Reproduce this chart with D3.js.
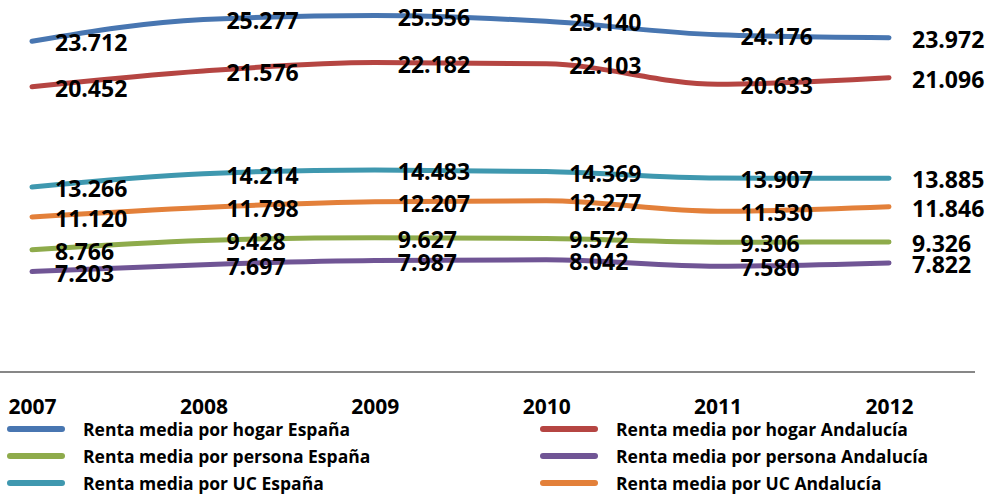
<!DOCTYPE html>
<html><head><meta charset="utf-8">
<script src="https://cdn.jsdelivr.net/npm/d3@7"></script>
<style>
html,body{margin:0;padding:0;background:#fff;}
svg{display:block;font-family:"Open Sans",sans-serif;font-weight:bold;}
</style></head>
<body>
<svg id="c" width="992" height="494"></svg>
<script>
const years = ["2007","2008","2009","2010","2011","2012"];
const hogarEspana = [23.712,25.277,25.556,25.140,24.176,23.972];
const hogarAndalucia = [20.452,21.576,22.182,22.103,20.633,21.096];
const ucEspana = [13.266,14.214,14.483,14.369,13.907,13.885];
const ucAndalucia = [11.120,11.798,12.207,12.277,11.530,11.846];
const personaEspana = [8.766,9.428,9.627,9.572,9.306,9.326];
const personaAndalucia = [7.203,7.697,7.987,8.042,7.580,7.822];
const seriesNames = ["Renta media por hogar España","Renta media por hogar Andalucía","Renta media por persona España","Renta media por persona Andalucía","Renta media por UC España","Renta media por UC Andalucía"];
const seriesValues = [hogarEspana,hogarAndalucia,personaEspana,personaAndalucia,ucEspana,ucAndalucia];
const colors = ["#4876B1","#B54542","#8EAB4B","#705595","#3F98AF","#E3803A"];

const svg = d3.select("#c");
const x = d3.scalePoint().domain(years).range([32,889]);
const y = d3.scaleLinear().domain([0,26.67]).range([372,0]);
const fmt = v => v.toFixed(3);

// axis baseline
svg.append("line").attr("x1",0).attr("x2",975).attr("y1",y(0)).attr("y2",y(0))
  .attr("stroke","#878787").attr("stroke-width",2);

// year labels
const xa = svg.append("g").attr("transform",`translate(0,${y(0)})`)
  .call(d3.axisBottom(x).tickSize(0).tickPadding(0));
xa.select(".domain").remove();
xa.selectAll("text").attr("dy",null).attr("y",34).attr("dominant-baseline","central")
  .attr("font-size",21).attr("font-family","Open Sans").attr("font-weight","bold").attr("fill","#000");

const line = d3.line().x((d,i)=>x(years[i])).y(d=>y(d)).curve(d3.curveMonotoneX);

seriesValues.forEach((vals,si)=>{
  svg.append("path").attr("d",line(vals)).attr("fill","none")
    .attr("stroke",colors[si]).attr("stroke-width",5)
    .attr("stroke-linecap","round").attr("stroke-linejoin","round");
});
seriesValues.forEach((vals,si)=>{
  svg.append("g").selectAll("text").data(vals).join("text")
    .attr("x",(d,i)=>x(years[i])+23).attr("y",d=>y(d)+1)
    .attr("dominant-baseline","central").attr("font-size",23).attr("fill","#000")
    .text(fmt);
});

// legend
const lg = svg.append("g");
seriesNames.forEach((name,i)=>{
  const col = i%2, row = Math.floor(i/2);
  const lx = col===0 ? 10 : 543;
  const ly = [429,456,483][row];
  lg.append("line").attr("x1",lx).attr("x2",lx+52).attr("y1",ly).attr("y2",ly)
    .attr("stroke",colors[i]).attr("stroke-width",6).attr("stroke-linecap","round");
  lg.append("text").attr("x",lx+73).attr("y",ly).attr("dominant-baseline","central")
    .attr("font-size",17.5).attr("fill","#000").text(name);
});
</script>
</body></html>
